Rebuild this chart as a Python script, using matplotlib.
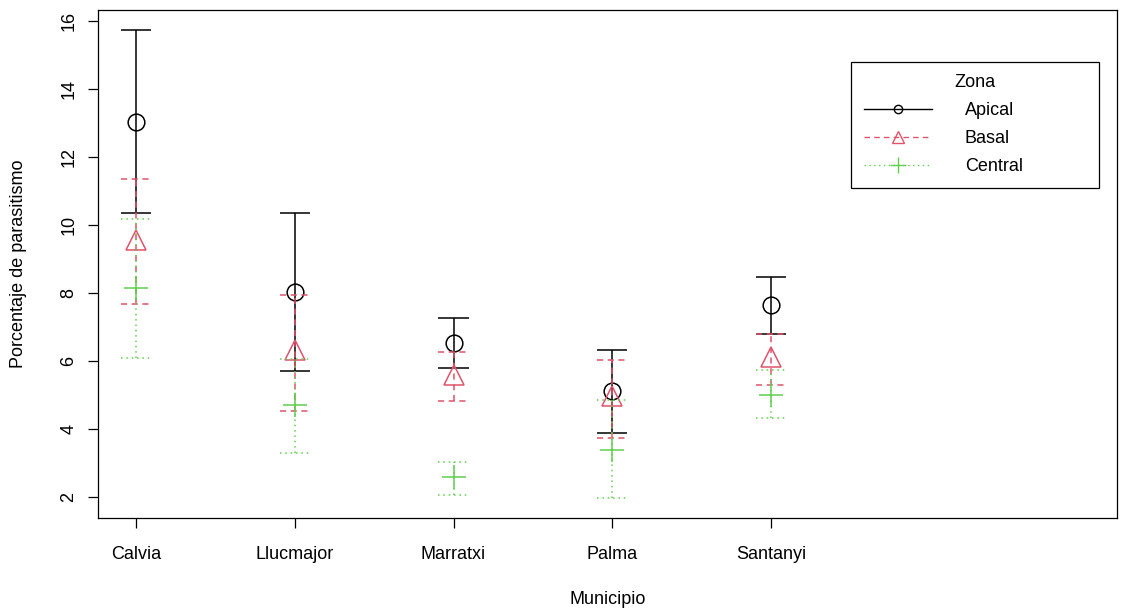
import matplotlib
matplotlib.use("Agg")
import matplotlib.pyplot as plt
from matplotlib.lines import Line2D

plt.rcParams['font.family'] = ['Liberation Sans', 'DejaVu Sans']

municipios = ["Calvia", "Llucmajor", "Marratxi", "Palma", "Santanyi"]
zonas = ["Apical", "Basal", "Central"]

# mean, lower and upper limit per zone
apical_mean = [13.04, 8.02, 6.54, 5.12, 7.65]
apical_low = [10.34, 5.70, 5.79, 3.89, 6.79]
apical_high = [15.74, 10.34, 7.26, 6.32, 8.48]

basal_mean = [9.56, 6.32, 5.59, 4.97, 6.12]
basal_low = [7.67, 4.54, 4.82, 3.74, 5.29]
basal_high = [11.34, 7.95, 6.26, 6.02, 6.79]

central_mean = [8.13, 4.69, 2.58, 3.39, 5.00]
central_low = [6.08, 3.28, 2.07, 1.96, 4.33]
central_high = [10.16, 6.05, 3.04, 4.86, 5.73]

colors = ["black", "#DF536B", "#61D04F"]
styles = ["-", (0, (4, 3)), (0, (1, 2.5))]
markers = ["o", "^", "+"]
msizes = [12, 15, 17]

fs = 13

fig = plt.figure(figsize=(11.21, 6.12), dpi=100)
ax = fig.add_axes([0.0874, 0.1536, 0.909, 0.830])

x = list(range(1, len(municipios) + 1))
series = [(apical_mean, apical_low, apical_high),
          (basal_mean, basal_low, basal_high),
          (central_mean, central_low, central_high)]
cap = 0.095

for (m, lo, hi), c, ls, mk, ms in zip(series, colors, styles, markers, msizes):
    ax.vlines(x, lo, hi, colors=c, linestyles=[ls], linewidth=1.1)
    ax.hlines(lo, [v - cap for v in x], [v + cap for v in x], colors=c, linestyles=[ls], linewidth=1.1)
    ax.hlines(hi, [v - cap for v in x], [v + cap for v in x], colors=c, linestyles=[ls], linewidth=1.1)
    ax.plot(x, m, linestyle="none", marker=mk, markersize=ms, markerfacecolor="none",
            markeredgecolor=c, markeredgewidth=1.1, color=c)

ax.set_xlim(0.76, 7.18)
ax.set_ylim(1.38, 16.32)
ax.set_xticks(x)
ax.set_xticklabels(municipios)
ax.set_yticks(range(2, 17, 2))
ax.tick_params(axis="both", labelsize=fs, length=7, width=0.9, direction="out")
ax.tick_params(axis="x", pad=13)
ax.tick_params(axis="y", pad=8)
for lab in ax.get_yticklabels():
    lab.set_rotation(90)
    lab.set_va("center")
for sp in ax.spines.values():
    sp.set_linewidth(0.9)

ax.set_xlabel("Municipio", fontsize=fs, labelpad=20)
ax.set_ylabel("Porcentaje de parasitismo", fontsize=fs, labelpad=24)

handles = [Line2D([], [], color=c, linestyle=ls, marker=mk, markersize=s,
                  markerfacecolor="none", linewidth=1)
           for c, ls, mk, s in zip(colors, styles, markers, [6, 9, 11])]
leg = ax.legend(handles, zonas, title="Zona", loc="upper left",
                bbox_to_anchor=(0.739, 0.0, 0.243, 0.898), mode="expand",
                fontsize=fs, title_fontsize=fs,
                fancybox=False, edgecolor="black", handlelength=3.8,
                handletextpad=1.8, labelspacing=0.6, borderpad=0.7,
                borderaxespad=0, framealpha=1)
leg.get_frame().set_linewidth(0.9)

fig.savefig("out.png", dpi=100)
